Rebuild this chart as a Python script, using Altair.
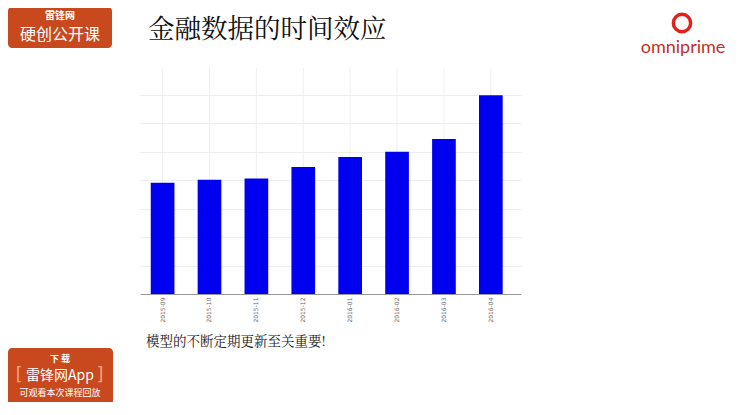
import altair as alt
import pandas as pd

months = ["2015-09", "2015-10", "2015-11", "2015-12", "2016-01", "2016-02", "2016-03", "2016-04"]
values = [3.9, 4.01, 4.05, 4.46, 4.81, 4.99, 5.44, 6.97]
y_grid = [0, 1, 2, 3, 4, 5, 6, 7]

title_text = "金融数据的时间效应"
note_text = "模型的不断定期更新至关重要!"

df = pd.DataFrame({"month": months, "value": values})
one = pd.DataFrame({"k": [0]})

W, H = 381, 228

xscale = alt.Scale(paddingInner=0.495, paddingOuter=0.31, align=0.37)

vgrid = alt.Chart(df).mark_rule(color="#efefef", strokeWidth=1).encode(
    x=alt.X("month:N", sort=months, scale=xscale, title=None),
    y=alt.value(2), y2=alt.value(H),
)

bars = alt.Chart(df).mark_bar(color="#0000f0").encode(
    x=alt.X("month:N", sort=months, title=None, scale=xscale,
            axis=alt.Axis(labelAngle=270, labelFontSize=6, labelColor="#666",
                          labelFont="DejaVu Sans", ticks=False, grid=False,
                          domainColor="#999", labelPadding=3)),
    y=alt.Y("value:Q", title=None, scale=alt.Scale(domain=[0, 8], nice=False),
            axis=alt.Axis(values=y_grid, labels=False, ticks=False, domain=False,
                          grid=True, gridColor="#ededed")),
)

orange = "#c9491f"

def rect(x1, x2, y1, y2, color):
    return alt.Chart(one).mark_rect(color=color, cornerRadius=4).encode(
        x=alt.value(x1), x2=alt.value(x2), y=alt.value(y1), y2=alt.value(y2))

def txt(s, x, y, size, color="white", weight="normal", align="center", font="Noto Sans CJK SC"):
    return alt.Chart(one).mark_text(text=s, fontSize=size, color=color, fontWeight=weight,
                                    align=align, baseline="middle", font=font).encode(
        x=alt.value(x), y=alt.value(y))

layers = [
    vgrid,
    bars,
    rect(-132, -28, -59, -18, orange),
    txt("雷锋网", -80, -50, 10, weight="bold"),
    txt("硬创公开课", -80, -31, 16),
    rect(-132, -27, 282, 339, orange),
    txt("下 载", -80, 293, 9, weight="bold"),
    txt("雷锋网App", -80, 310, 14),
    txt("[", -121, 309, 17, color="#f3a57f", font="DejaVu Sans"),
    txt("]", -40, 309, 17, color="#f3a57f", font="DejaVu Sans"),
    txt("可观看本次课程回放", -80, 327, 9),
    txt(title_text, 8, -36, 26.5, color="#111", align="left",
        font="Noto Serif CJK SC, Noto Sans CJK SC"),
    txt(note_text, 6, 276, 13.5, color="#222", align="left",
        font="Noto Serif CJK SC, Noto Sans CJK SC"),
    alt.Chart(one).mark_point(shape="circle", size=300, filled=False,
                              color="#e21f1b", strokeWidth=3.5, opacity=1).encode(
        x=alt.value(542), y=alt.value(-43)),
    txt("omniprime", 543, -18, 18, color="#c0302a", font="Lato"),
]

chart = alt.layer(*layers).properties(
    width=W, height=H,
    autosize=alt.AutoSizeParams(type="none"),
    padding={"left": 132, "top": 58, "right": 211, "bottom": 108},
    background="white",
).configure_view(stroke=None)

chart.save("out.html", embed_options={"renderer": "svg", "actions": False})
